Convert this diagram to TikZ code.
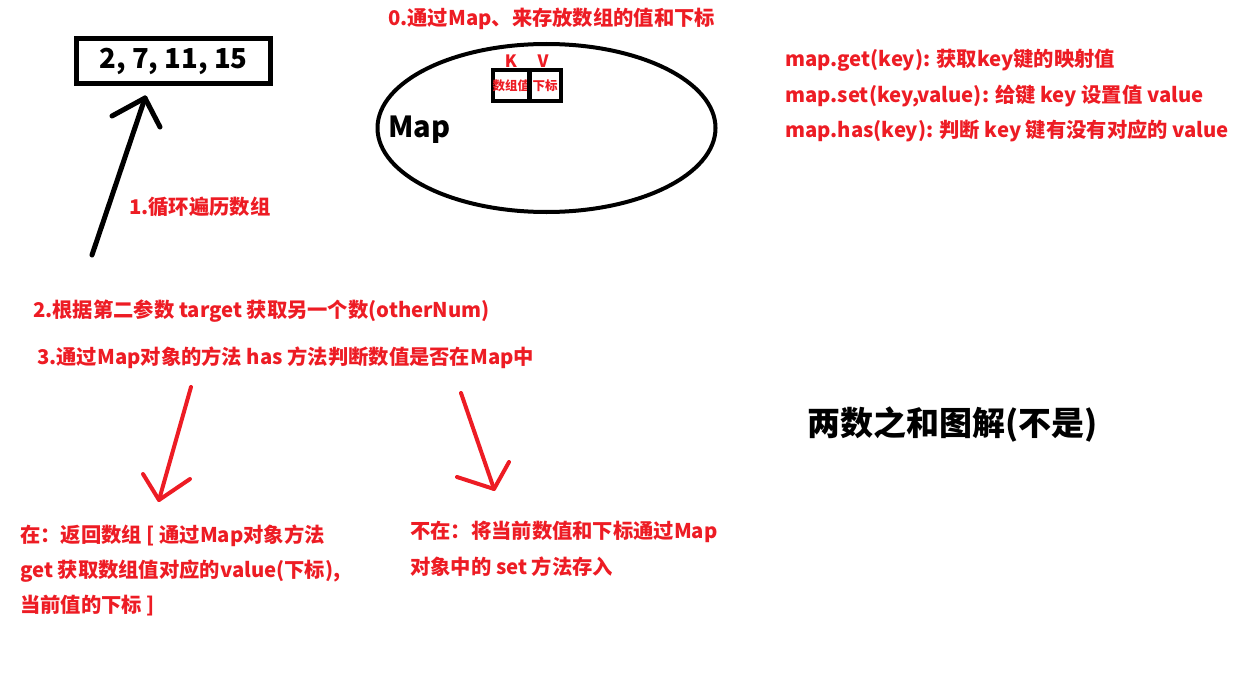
\documentclass[tikz,border=0pt]{standalone}
\usepackage{fontspec}
\setmainfont{Noto Sans CJK SC}
\usetikzlibrary{shapes.geometric}
\definecolor{paintred}{RGB}{237,28,36}
\tikzset{
  redtext/.style={text=paintred, font=\bfseries\fontsize{20.3}{24}\selectfont, anchor=west, inner sep=0pt},
  blacktext/.style={text=black, font=\bfseries\fontsize{27.5}{32}\selectfont, inner sep=0pt},
  kvbox/.style={draw, line width=4pt, minimum height=30.4pt, inner sep=0pt, text=paintred, font=\bfseries\fontsize{12.5}{14}\selectfont},
  kvlabel/.style={text=paintred, font=\bfseries\fontsize{17}{20}\selectfont, inner sep=0pt},
  blackarrow/.style={line width=5pt, line cap=round, line join=round},
  redarrow/.style={draw=paintred, line width=4pt, line cap=round, line join=round}
}
\begin{document}
\begin{tikzpicture}[x=1pt,y=-1pt]
\useasboundingbox (0,0) rectangle (1238,682);
% array and loop
\node [draw, line width=5pt, minimum width=194pt, minimum height=45pt, blacktext] (arraybox) at (173.5,61) {2, 7, 11, 15};
\coordinate (looptail) at (92,255);
\coordinate (looptip) at (145,98);
\draw [blackarrow] (looptail) -- (looptip);
\draw [blackarrow] (112,116) -- (looptip) -- (160,127);
\node [redtext] (step1) at (129,207) {1.循环遍历数组};
% map
\node [redtext] (step0) at (388,19) {0.通过Map、来存放数组的值和下标};
\node [draw, ellipse, line width=4pt, minimum width=338pt, minimum height=168pt] (mapellipse) at (546.5,128) {};
\node [blacktext, font=\bfseries\fontsize{29}{33}\selectfont, anchor=west] (maplabel) at (388,130) {Map};
\node [kvbox, minimum width=35.3pt] (kbox) at (511.3,85.5) {数组值};
\node [kvbox, minimum width=32.3pt] (vbox) at (545.2,85.5) {下标};
\node [kvlabel] (klabel) at (511,61) {K};
\node [kvlabel] (vlabel) at (543,61) {V};
% map methods
\node [redtext] (mapget) at (785,60) {map.get(key): 获取key键的映射值};
\node [redtext] (mapset) at (785,96) {map.set(key,value): 给键 key 设置值 value};
\node [redtext] (maphas) at (785,131) {map.has(key): 判断 key 键有没有对应的 value};
% steps
\node [redtext] (step2) at (33,311) {2.根据第二参数 target 获取另一个数(otherNum)};
\node [redtext] (step3) at (37,358) {3.通过Map对象的方法 has 方法判断数值是否在Map中};
\coordinate (yestail) at (191,387);
\coordinate (yestip) at (159,500);
\draw [redarrow] (yestail) -- (yestip);
\draw [redarrow] (143,474) -- (yestip) -- (190,479);
\coordinate (notail) at (461,393);
\coordinate (notip) at (494,489);
\draw [redarrow] (notail) -- (notip);
\draw [redarrow] (457,477) -- (notip) -- (509,462);
\node [redtext] (yes1) at (20,536) {在：返回数组 [ 通过Map对象方法};
\node [redtext] (yes2) at (20,571) {get 获取数组值对应的value(下标),};
\node [redtext] (yes3) at (20,606) {当前值的下标 ]};
\node [redtext] (no1) at (410,532) {不在：将当前数值和下标通过Map};
\node [redtext] (no2) at (410,567) {对象中的 set 方法存入};
% title
\node [text=black, font=\bfseries\fontsize{33}{37}\selectfont, anchor=west, inner sep=0pt] (title) at (807,425) {两数之和图解(不是)};
\end{tikzpicture}
\end{document}
